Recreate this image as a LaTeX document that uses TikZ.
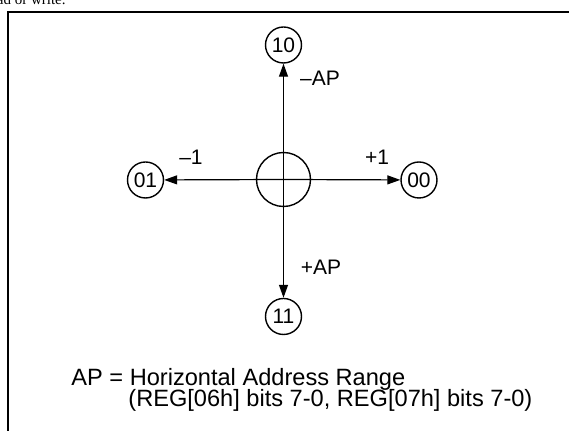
\documentclass[tikz,border=0pt]{standalone}
\usepackage{fontspec}
\setmainfont{Liberation Sans}
\newfontfamily\seriffont{Liberation Serif}
\usetikzlibrary{arrows.meta}
\begin{document}
\begin{tikzpicture}[x=0.5pt,y=-0.5pt,
  state/.style={circle,draw,line width=0.7pt,minimum size=18pt,inner sep=0pt,font=\fontsize{10.5}{12}\selectfont},
  hub/.style={circle,draw,line width=0.7pt,minimum size=27pt,inner sep=0pt},
  arr/.style={line width=0.6pt,-{Triangle[length=6.5pt,width=4.5pt]}},
  lbl/.style={inner sep=0pt,font=\fontsize{10.5}{12}\selectfont},
  note/.style={inner sep=0pt,anchor=base west,font=\fontsize{11.8}{14}\selectfont},
  frame/.style={line width=1pt}]
\useasboundingbox (0,0) rectangle (569,431);
% text of the page above, cut by the top edge as in the reference
\node[inner sep=0pt,anchor=base east,font=\seriffont\fontsize{7.5}{9}\selectfont] (pagetxt) at (66,5) {ad or write.};
% frame
\coordinate (fbl) at (7.5,440);
\coordinate (ftl) at (7.5,12);
\coordinate (ftr) at (575,12);
\draw[frame] (fbl) -- (ftl) -- (ftr);
% nodes
\node[hub] (c) at (283.5,179.5) {};
\node[state] (n10) at (283.5,45) {10};
\node[state] (n11) at (283.5,316.5) {11};
\node[state] (n01) at (145.5,180) {01};
\node[state] (n00) at (419,180) {00};
% connectors
\draw[arr] (c.center) -- (n10);
\draw[arr] (c.center) -- (n11);
\draw[arr] (c.center) -- (n01);
\draw[arr] (c.center) -- (n00);
% labels
\node[lbl] (lm1) at (191,157) {–1};
\node[lbl] (lp1) at (377,157) {+1};
\node[lbl] (lmap) at (320,78) {–AP};
\node[lbl] (lpap) at (321,267) {+AP};
% note
\node[note] (note1) at (71,386) {AP = Horizontal Address Range};
\node[note] (note2) at (128,407) {(REG[06h] bits 7-0, REG[07h] bits 7-0)};
\end{tikzpicture}
\end{document}
